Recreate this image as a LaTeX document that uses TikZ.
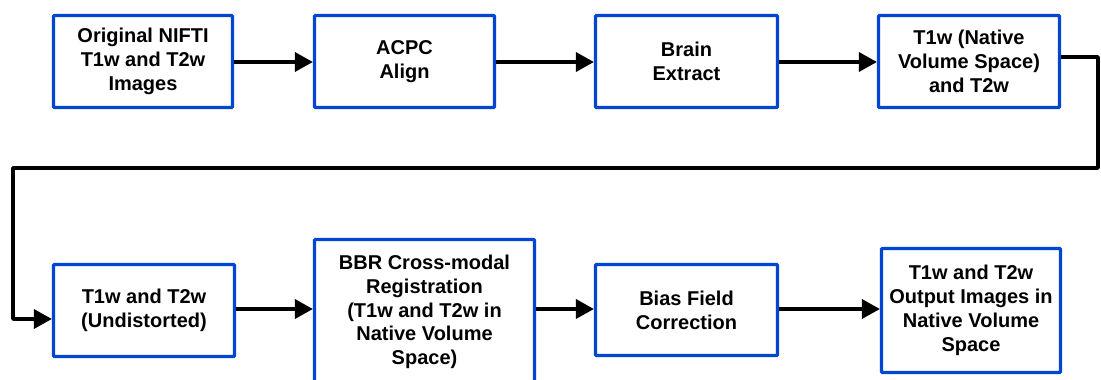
\documentclass[tikz,border=0pt]{standalone}
\usepackage{fontspec}
\setmainfont{Liberation Sans}
\usetikzlibrary{arrows.meta}
\definecolor{boxblue}{RGB}{0,70,210}
\begin{document}
\begin{tikzpicture}[x=1pt,y=-1pt,
  box/.style={draw=boxblue,line width=3.2pt,fill=white,rounded corners=1pt,
    align=center,inner sep=0pt,font=\bfseries\fontsize{20}{23.8}\selectfont},
  conn/.style={draw=black,line width=3.6pt},
  arr/.style={conn,-{Triangle[length=18pt,width=19pt]}}]
\useasboundingbox (0,0) rectangle (1101,380);
\fill[white] (0,0) rectangle (1101,380);
\node[box,minimum width=179pt,minimum height=92pt] (b1) at (143,61.5) {Original NIFTI\\T1w and T2w\\Images};
\node[box,minimum width=180pt,minimum height=92pt] (b2) at (404.5,61.5) {ACPC\\Align};
\node[box,minimum width=182pt,minimum height=92pt] (b3) at (686.5,61.5) {Brain\\Extract};
\node[box,minimum width=181pt,minimum height=92pt] (b4) at (969,61.5) {T1w (Native\\Volume Space)\\and T2w};
\node[box,minimum width=181pt,minimum height=92pt] (b5) at (144,310.5) {T1w and T2w\\(Undistorted)};
\node[box,minimum width=220pt,minimum height=145pt] (b6) at (424.5,312) {BBR Cross-modal\\Registration\\(T1w and T2w in\\Native Volume\\Space)};
\node[box,minimum width=182pt,minimum height=91pt] (b7) at (686.5,310) {Bias Field\\Correction};
\node[box,minimum width=179pt,minimum height=124pt] (b8) at (971,310.5) {T1w and T2w\\Output Images in\\Native Volume\\Space};
\coordinate (r1) at (0,62);
\coordinate (r2) at (0,309);
\coordinate (c1) at (1098,168);
\coordinate (c2) at (13,168);
\coordinate (e4) at ([yshift=4.5pt]b4.east);
\coordinate (e5) at ([yshift=-8.5pt]b5.west);
\draw[arr] (b1.east |- r1) -- (b2.west |- r1);
\draw[arr] (b2.east |- r1) -- (b3.west |- r1);
\draw[arr] (b3.east |- r1) -- (b4.west |- r1);
\draw[arr,line join=round] (e4) -- (e4 -| c1) -- (c1) -- (c2) -- (c2 |- e5) -- (e5);
\draw[arr] (b5.east |- r2) -- (b6.west |- r2);
\draw[arr] (b6.east |- r2) -- (b7.west |- r2);
\draw[arr] (b7.east |- r2) -- (b8.west |- r2);
\end{tikzpicture}
\end{document}
